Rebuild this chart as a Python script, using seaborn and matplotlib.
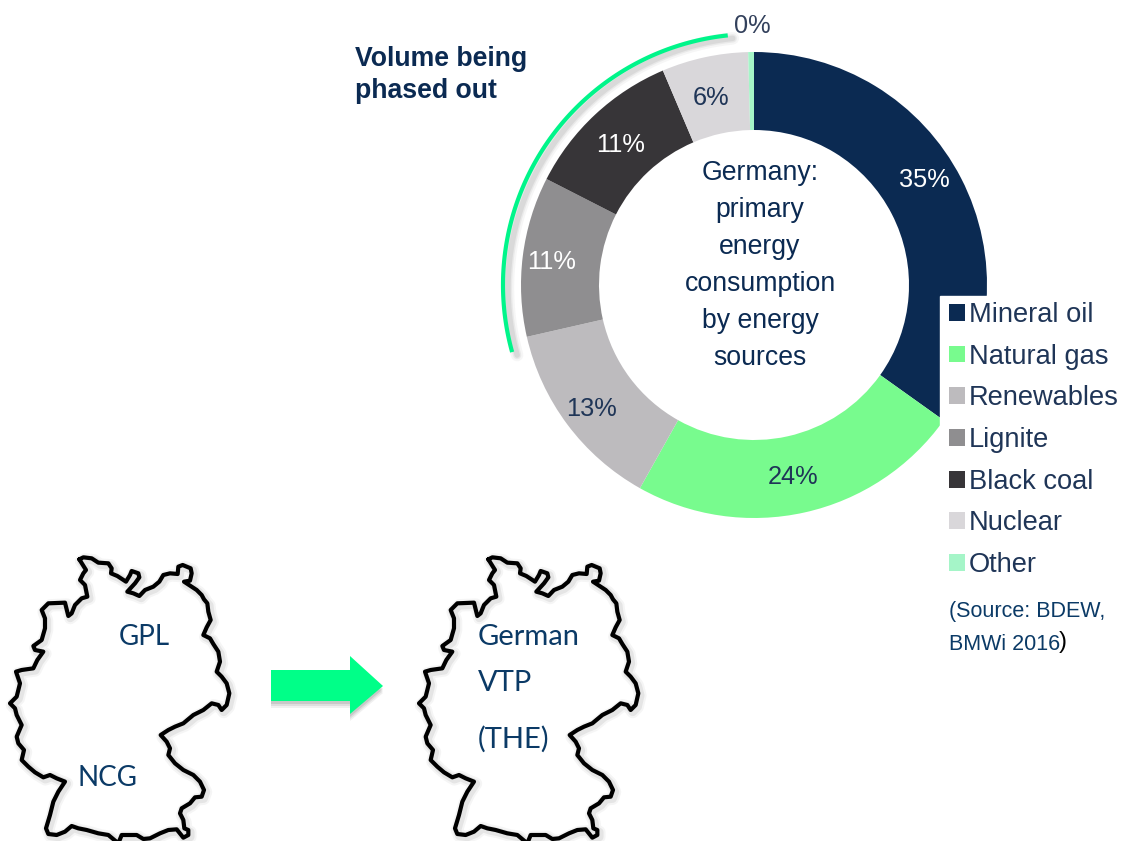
import numpy as np
import seaborn as sns
import matplotlib.pyplot as plt
from matplotlib.patches import Patch, Polygon, Rectangle

sources = ['Mineral oil', 'Natural gas', 'Renewables', 'Lignite', 'Black coal', 'Nuclear', 'Other']
shares = [34.9, 23.3, 13.3, 11.1, 11.1, 6.0, 0.4]
share_labels = ['35%', '24%', '13%', '11%', '11%', '6%', '0%']
colors = ['#0B2A52', '#78FB8E', '#BDBBBE', '#8F8E90', '#373538', '#D9D7DA', '#A5F5C8']
label_colors = ['white', '#1F3557', '#1F3557', 'white', 'white', '#1F3557', '#33415C']
label_pos = [(924, 180), (793, 477), (592, 409), (552, 262), (621, 145), (711, 98), (752, 26)]
center_lines = ['Germany:', 'primary', 'energy', 'consumption', 'by energy', 'sources']

# outline of Germany (3x zoom pixels)
outline = [(238, 58), (250, 52), (275, 55), (295, 68), (325, 70), (335, 85), (333, 100), (352, 108), (378, 125),
           (390, 105), (395, 93), (415, 100), (418, 112), (405, 130), (382, 155), (400, 160), (418, 168), (435, 150),
           (460, 140), (478, 125), (490, 105), (510, 100), (533, 102), (535, 80), (548, 75), (572, 85), (575, 100),
           (570, 122), (552, 125), (575, 140), (590, 150), (605, 165), (612, 178), (622, 190), (625, 215), (632, 240),
           (620, 262), (610, 285), (630, 295), (640, 312), (655, 335), (660, 365), (650, 395), (665, 410), (680, 430),
           (688, 460), (680, 495), (665, 510), (655, 495), (635, 490), (610, 510), (580, 525), (550, 550), (525, 560),
           (505, 570), (482, 585), (500, 605), (510, 625), (505, 645), (525, 670), (550, 690), (580, 705), (600, 725),
           (612, 750), (605, 770), (585, 772), (570, 790), (545, 805), (540, 820), (550, 840), (553, 865), (565, 870),
           (565, 885), (550, 893), (530, 868), (505, 870), (480, 880), (450, 895), (430, 897), (410, 885), (365, 885),
           (355, 910), (325, 885), (295, 880), (260, 870), (235, 865), (215, 858), (195, 875), (170, 885), (145, 882),
           (138, 865), (150, 825), (160, 785), (175, 755), (195, 725), (170, 715), (150, 705), (130, 712), (105, 697),
           (85, 680), (65, 660), (72, 630), (55, 610), (50, 590), (65, 555), (50, 525), (45, 505), (30, 490), (50, 470),
           (60, 430), (48, 395), (65, 390), (100, 385), (112, 360), (130, 335), (105, 330), (100, 318), (125, 300),
           (135, 265), (135, 235), (125, 210), (145, 190), (195, 188), (205, 228), (215, 220), (225, 195), (245, 175),
           (262, 170), (255, 135), (240, 120), (250, 100), (258, 90), (238, 58)]

sns.set_theme(style='white')
plt.rcParams['font.family'] = ['Liberation Sans', 'DejaVu Sans']

W, H = 1126, 841
fig = plt.figure(figsize=(W / 100, H / 100), dpi=100, facecolor='white')

# donut
cx, cy, r_out, r_in = 754, 285, 233, 155
pie_ax = fig.add_axes([(cx - r_out) / W, 1 - (cy + r_out) / H, 2 * r_out / W, 2 * r_out / H])
pie_ax.pie(shares, colors=colors, startangle=90, counterclock=False, radius=1,
           wedgeprops={'width': (r_out - r_in) / r_out, 'linewidth': 0})
pie_ax.set_xlim(-1, 1)
pie_ax.set_ylim(-1, 1)

# overlay in picture pixels
ax = fig.add_axes([0, 0, 1, 1], facecolor='none')
ax.set_xlim(0, W)
ax.set_ylim(H, 0)
ax.axis('off')

for lab, col, (x, y) in zip(share_labels, label_colors, label_pos):
    ax.text(x, y, lab, color=col, fontsize=18.3, ha='center', va='center')

for i, line in enumerate(center_lines):
    ax.text(760, 173 + 37 * i, line, color='#0B2A52', fontsize=19.2, ha='center', va='center')

ax.text(355, 59, 'Volume being', color='#0B2A52', fontsize=19.2, fontweight='bold', va='center')
ax.text(355, 91, 'phased out', color='#0B2A52', fontsize=19.2, fontweight='bold', va='center')

# green arc around the phased out slices
theta = np.radians(np.linspace(96, 195.5, 100))
arc_x = cx + 251 * np.cos(theta)
arc_y = cy - 251 * np.sin(theta)
for lw, a in [(9, 0.05), (6, 0.08), (4, 0.1)]:
    ax.plot(arc_x + 5, arc_y + 3, color='#555555', lw=lw, alpha=a, solid_capstyle='round')
ax.plot(arc_x, arc_y, color='#00F58A', lw=3, solid_capstyle='butt')

# legend with a white box over the donut
ax.add_patch(Rectangle((940, 296), 186, 310, color='white', zorder=3))
handles = [Patch(facecolor=c, edgecolor='none') for c in colors]
leg = ax.legend(handles, sources, loc='upper left', bbox_to_anchor=(944 / W, 1 - 297 / H),
                bbox_transform=fig.transFigure, frameon=False, fontsize=19.6,
                handlelength=0.58, handleheight=0.58, handletextpad=0.15,
                labelspacing=0.577, borderpad=0.18, borderaxespad=0)
leg.set_zorder(4)
for t in leg.get_texts():
    t.set_color('#1F3557')

ax.text(949, 611, '(Source: BDEW,', color='#0B3A66', fontsize=15.5, va='center', zorder=5)
ax.text(949, 644, 'BMWi 2016', color='#0B3A66', fontsize=15.5, va='center', zorder=5)
ax.text(1059, 642, ')', color='black', fontsize=17, va='center', zorder=5)

# the two maps
ox = np.array([p[0] for p in outline]) / 3
oy = np.array([p[1] for p in outline]) / 3 + 540
for shift in [0, 409]:
    for lw, a in [(9, 0.05), (6, 0.09)]:
        ax.plot(ox + shift + 2, oy + 2, color='#444444', lw=lw, alpha=a, solid_joinstyle='round')
    sns.lineplot(x=ox + shift, y=oy, sort=False, estimator=None, color='black', lw=3,
                 solid_joinstyle='round', ax=ax, legend=False)
ax.set_xlim(0, W)
ax.set_ylim(H, 0)
ax.axis('off')

ax.text(119, 637, 'GPL', color='#0B3A66', fontsize=20, family='Lato', va='center')
ax.text(78, 778, 'NCG', color='#0B3A66', fontsize=20, family='Lato', va='center')
for txt, y in [('German', 637), ('VTP', 683), ('(THE)', 739)]:
    ax.text(478, y, txt, color='#0B3A66', fontsize=21, family='Lato', va='center')

# block arrow between the maps
arrow = [(271, 670), (350, 670), (350, 656), (383, 686), (350, 714), (350, 701), (271, 701)]
for d, a in [(7, 0.08), (5, 0.1), (3, 0.14)]:
    ax.add_patch(Polygon([(x, y + d) for x, y in arrow], color='#444444', alpha=a, lw=0))
ax.add_patch(Polygon(arrow, color='#00FF88', lw=0))

fig.savefig('out.png', dpi=100)
